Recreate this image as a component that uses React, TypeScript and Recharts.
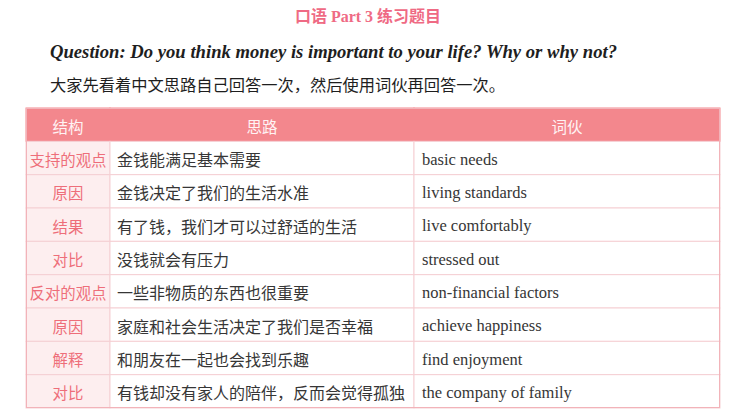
import React from 'react';
import { ScatterChart, Scatter, XAxis, YAxis } from 'recharts';

// ---- content ----
const title = '口语 Part 3 练习题目';
const question = 'Question: Do you think money is important to your life? Why or why not?';
const instruction = '大家先看着中文思路自己回答一次，然后使用词伙再回答一次。';
const headers = ['结构', '思路', '词伙'];
const structures = ['支持的观点', '原因', '结果', '对比', '反对的观点', '原因', '解释', '对比'];
const ideas = [
  '金钱能满足基本需要',
  '金钱决定了我们的生活水准',
  '有了钱，我们才可以过舒适的生活',
  '没钱就会有压力',
  '一些非物质的东西也很重要',
  '家庭和社会生活决定了我们是否幸福',
  '和朋友在一起也会找到乐趣',
  '有钱却没有家人的陪伴，反而会觉得孤独',
];
const phrases = [
  'basic needs',
  'living standards',
  'live comfortably',
  'stressed out',
  'non-financial factors',
  'achieve happiness',
  'find enjoyment',
  'the company of family',
];

// ---- layout ----
const W = 746;
const H = 418;
const TABLE_LEFT = 26;
const TABLE_RIGHT = 720;
const TABLE_TOP = 108;
const TABLE_BOTTOM = 408;
const COL_WIDTHS = [84, 304, 306];
const COL_STARTS = [0, 84, 388];
const N_ROWS = structures.length + 1;
const ROW_H = (TABLE_BOTTOM - TABLE_TOP) / N_ROWS;

const HEADER_BG = '#f3878d';
const LABEL_BG = '#fdeeef';
const LABEL_FG = '#ee6e7a';
const BODY_FG = '#363636';
const GRID = '#f5cfd3';
const PINK_TITLE = '#ef6a84';

type Kind = 'header' | 'label' | 'idea' | 'phrase';
type Cell = { x: number; y: number; col: number; kind: Kind; text: string };

const cells: Cell[] = [];
headers.forEach((h, c) => cells.push({ x: COL_STARTS[c], y: 0.5, col: c, kind: 'header', text: h }));
structures.forEach((s, i) => {
  cells.push({ x: COL_STARTS[0], y: i + 1.5, col: 0, kind: 'label', text: s });
  cells.push({ x: COL_STARTS[1], y: i + 1.5, col: 1, kind: 'idea', text: ideas[i] });
  cells.push({ x: COL_STARTS[2], y: i + 1.5, col: 2, kind: 'phrase', text: phrases[i] });
});

const SANS = '"Noto Sans CJK SC", "Noto Sans", sans-serif';
const SERIF = '"Liberation Serif", "Noto Sans CJK SC", serif';

const CellShape = (props: any) => {
  const { cx, cy, payload } = props;
  if (cx == null || cy == null || !payload) return null;
  const w = COL_WIDTHS[payload.col];
  const x = cx;
  const y = cy - ROW_H / 2;
  const kind: Kind = payload.kind;
  let fill = '#ffffff';
  let color = BODY_FG;
  let font = SANS;
  let size = 16;
  let anchor: 'start' | 'middle' = 'start';
  let tx = x + 7;
  if (kind === 'header') {
    fill = HEADER_BG;
    color = '#fff3f4';
    size = 15.5;
    anchor = 'middle';
    tx = x + w / 2;
  } else if (kind === 'label') {
    fill = LABEL_BG;
    color = LABEL_FG;
    size = 15.4;
    anchor = 'middle';
    tx = x + w / 2;
  } else if (kind === 'phrase') {
    font = SERIF;
    size = 16.5;
    tx = x + 8;
  }
  return (
    <g>
      <rect x={x} y={y} width={w} height={ROW_H} fill={fill} stroke={kind === 'header' ? HEADER_BG : GRID} strokeWidth={1} />
      <text
        x={tx}
        y={cy + 1}
        textAnchor={anchor}
        dominantBaseline="central"
        fill={color}
        fontFamily={font}
        fontSize={size}
      >
        {payload.text}
      </text>
    </g>
  );
};

export default function App() {
  return (
    <div style={{ position: 'fixed', left: 0, top: 0, width: W, height: H, background: '#ffffff', overflow: 'hidden' }}>
      <svg width={W} height={H} style={{ position: 'absolute', left: 0, top: 0 }}>
        <text x={368} y={22} textAnchor="middle" fill={PINK_TITLE} fontFamily={SERIF} fontWeight="bold" fontSize={16} textLength={146} lengthAdjust="spacingAndGlyphs">
          {title}
        </text>
        <text x={50} y={58} fill="#1e1e1e" fontFamily={SERIF} fontWeight="bold" fontStyle="italic" fontSize={19} textLength={567} lengthAdjust="spacingAndGlyphs">
          {question}
        </text>
        <text x={50} y={91} fill="#1e1e1e" fontFamily={SANS} fontSize={16} textLength={455} lengthAdjust="spacingAndGlyphs">
          {instruction}
        </text>
      </svg>
      <div style={{ position: 'absolute', left: 0, top: 0 }}>
        <ScatterChart
          width={W}
          height={H}
          margin={{ top: TABLE_TOP, right: W - TABLE_RIGHT, bottom: H - TABLE_BOTTOM, left: TABLE_LEFT }}
        >
          <XAxis type="number" dataKey="x" domain={[0, TABLE_RIGHT - TABLE_LEFT]} hide />
          <YAxis type="number" dataKey="y" domain={[0, N_ROWS]} reversed hide />
          <Scatter data={cells} shape={<CellShape />} isAnimationActive={false} />
        </ScatterChart>
      </div>
      <div
        style={{
          position: 'absolute',
          left: TABLE_LEFT,
          top: TABLE_TOP,
          width: TABLE_RIGHT - TABLE_LEFT,
          height: TABLE_BOTTOM - TABLE_TOP,
          boxSizing: 'border-box',
          border: '1px solid #f2b3b9',
          pointerEvents: 'none',
        }}
      />
    </div>
  );
}
